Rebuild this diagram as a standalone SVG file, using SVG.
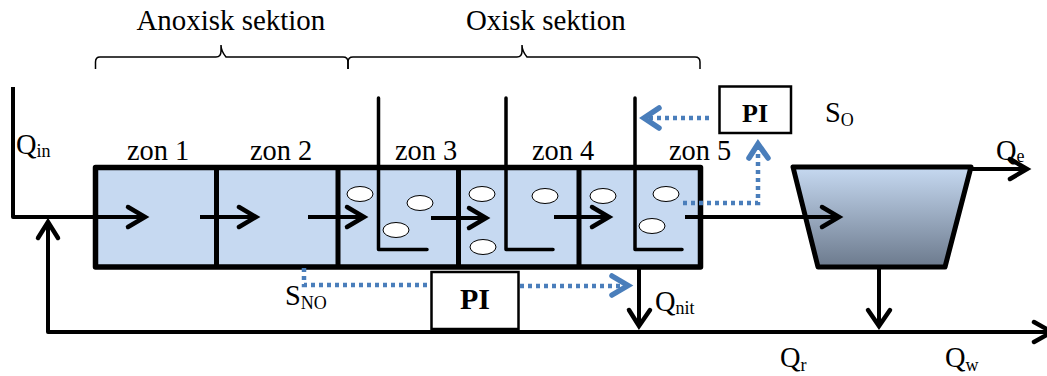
<svg xmlns="http://www.w3.org/2000/svg" width="1047" height="376" viewBox="0 0 1047 376">
<style>
text{font-family:"Liberation Serif","Times New Roman",serif;fill:#000}
.t{font-size:28.400px}
.h{font-size:28.900px}
.sub{font-size:18px}
.pi{font-weight:bold;font-size:30px;text-anchor:middle}
.tank{fill:#c6d9f1;stroke:#000;stroke-width:5.500;stroke-linejoin:round}
.div{fill:none;stroke:#000;stroke-width:5}
.baf{fill:none;stroke:#000;stroke-width:3.500;stroke-linejoin:round;stroke-linecap:round}
.bub{fill:#fff;stroke:#000;stroke-width:1}
.box{fill:#fff;stroke:#000;stroke-width:2.500}
.fl{fill:none;stroke:#000;stroke-width:4;stroke-linejoin:round}
.head{fill:none;stroke:#000;stroke-width:4.500;stroke-linecap:round;stroke-linejoin:miter}
.dot{fill:none;stroke:#4a7ebb;stroke-width:4.500;stroke-dasharray:4 4}
.bhead{fill:none;stroke:#4a7ebb;stroke-width:5.500;stroke-linecap:round}
.brace{fill:none;stroke:#000;stroke-width:1.500}
</style>
<defs>
<linearGradient id="grad" x1="0" y1="0" x2="0" y2="1">
<stop offset="0" stop-color="#c6d9f1"/>
<stop offset="1" stop-color="#6c7a8d"/>
</linearGradient>
</defs>

<g id="braces">
<path class="brace" d="M95.500 69V62Q95.500 57 100 57H216Q221 57 221 51V45Q221 51 226 57H343Q348 57 348 62V69"/>
<path class="brace" d="M348 69V62Q348 57 353 57H517Q522 57 522 51V45Q522 51 527 57H695Q700 57 700 62V69"/>
</g>

<g id="tank">
<rect class="tank" x="95.500" y="167.500" width="605" height="99.500"/>
<path class="div" d="M216.500 167V267M338 167V267M458.500 167V267M579 167V267"/>
</g>

<g id="clarifier">
<path d="M793 167H971L945 267H818Z" fill="url(#grad)" stroke="#000" stroke-width="5" stroke-linejoin="round"/>
</g>

<g id="baffles">
<path class="baf" d="M378.500 98V249.500H427"/>
<path class="baf" d="M506 98V249.500H553"/>
<path class="baf" d="M635 98V249.500H682"/>
</g>

<g id="bubbles">
<ellipse class="bub" cx="360" cy="194" rx="13" ry="7.500"/>
<ellipse class="bub" cx="420" cy="203" rx="13" ry="7.500"/>
<ellipse class="bub" cx="396" cy="230" rx="13" ry="7.500"/>
<ellipse class="bub" cx="482" cy="194" rx="13" ry="7.500"/>
<ellipse class="bub" cx="483" cy="247" rx="13" ry="7.500"/>
<ellipse class="bub" cx="545" cy="196" rx="13" ry="7.500"/>
<ellipse class="bub" cx="603" cy="196" rx="13" ry="7.500"/>
<ellipse class="bub" cx="666" cy="194" rx="13" ry="7.500"/>
<ellipse class="bub" cx="652" cy="226" rx="13" ry="7.500"/>
</g>

<g id="connectors">
<path class="fl" d="M13 87V217H143"/>
<path class="head" d="M128 207L145 217L128 227"/>
<path class="fl" d="M200 217H254"/>
<path class="head" d="M239 207L256 217L239 227"/>
<path class="fl" d="M308 217H362"/>
<path class="head" d="M347 207L364 217L347 227"/>
<path class="fl" d="M431 218H484"/>
<path class="head" d="M469 208L486 218L469 228"/>
<path class="fl" d="M554 217H607"/>
<path class="head" d="M592 207L609 217L592 227"/>
<path class="fl" d="M685 217H837"/>
<path class="head" d="M822 207L839 217L822 227"/>
<path class="fl" d="M971 169H1025"/>
<path class="head" d="M1010 159L1027 169L1010 179"/>
<path class="fl" d="M48 224V332H1047"/>
<path class="head" d="M38 238L48 222L58 238"/>
<path class="head" d="M1034 322L1052 332L1034 342"/>
<path class="fl" d="M639 267V324"/>
<path class="head" d="M629 310L639 326L650 310"/>
<path class="fl" d="M879 267V324"/>
<path class="head" d="M868 310L879 326L890 310"/>
</g>

<g id="signals">
<path class="dot" d="M304 268V285H431"/>
<path class="dot" d="M520 286H625"/>
<path class="bhead" d="M612 276L628 285.500L612 295"/>
<path class="dot" d="M709 118H648"/>
<path class="bhead" d="M659 108L644 118L659 128"/>
<path class="dot" d="M683 203H758V146"/>
<path class="bhead" d="M749 158L758 144L768 158"/>
</g>

<g id="pi1">
<rect class="box" x="719.500" y="86.500" width="71.500" height="46.500"/>
<text class="pi" x="755" y="122" style="font-size:26px">PI</text>
</g>
<g id="pi2">
<rect class="box" x="431.500" y="272" width="87" height="57"/>
<text class="pi" x="475" y="309">PI</text>
</g>

<g id="labels">
<text class="h" x="136.500" y="29.500">Anoxisk sektion</text>
<text class="h" x="466" y="29.500">Oxisk sektion</text>
<text class="t" x="127" y="160">zon 1</text>
<text class="t" x="250" y="160">zon 2</text>
<text class="t" x="395" y="160">zon 3</text>
<text class="t" x="532" y="160">zon 4</text>
<text class="t" x="669" y="160">zon 5</text>
<text class="t" x="16" y="154">Q<tspan class="sub" dy="3">in</tspan></text>
<text class="t" x="825" y="122">S<tspan class="sub" dy="4">O</tspan></text>
<text class="t" x="996" y="160">Q<tspan class="sub" dy="2">e</tspan></text>
<text class="t" x="285" y="305">S<tspan class="sub" dy="4">NO</tspan></text>
<text class="t" x="655" y="311">Q<tspan class="sub" dy="3">nit</tspan></text>
<text class="t" x="780" y="367">Q<tspan class="sub" dy="4">r</tspan></text>
<text class="t" x="945" y="367">Q<tspan class="sub" dy="4">w</tspan></text>
</g>
</svg>
